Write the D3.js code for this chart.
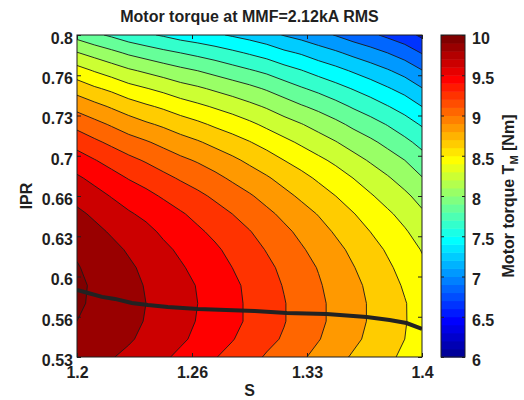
<!DOCTYPE html>
<html>
<head>
<meta charset="utf-8">
<script src="https://cdn.jsdelivr.net/npm/d3@7"></script>
<style>
    body { margin: 0; background: #fff; }
    svg { display: block; font-family: "Liberation Sans", Arial, sans-serif; }
    .axis text { font-size: 16px; font-weight: bold; fill: #1f1f1f; }
    .axis path, .axis line { stroke: #1f1f1f; }
    .label { font-size: 16px; font-weight: bold; fill: #1f1f1f; }
</style>
</head>
<body>
<svg width="524" height="400"></svg>
<script>
// grid: columns are S, rows are IPR (bottom row first)
const sValues = [1.20, 1.21, 1.22, 1.23, 1.24, 1.25, 1.26, 1.27, 1.28, 1.29, 1.30,
                 1.31, 1.32, 1.33, 1.34, 1.35, 1.36, 1.37, 1.38, 1.39, 1.40];
const iprValues = [0.53, 0.545, 0.56, 0.575, 0.59, 0.605, 0.62, 0.635, 0.65, 0.665,
                   0.68, 0.695, 0.71, 0.725, 0.74, 0.755, 0.77, 0.785, 0.80];
const torque = [
    [9.90, 9.86, 9.81, 9.76, 9.70, 9.63, 9.56, 9.49, 9.41, 9.34, 9.26, 9.18, 9.11, 9.03, 8.94, 8.86, 8.78, 8.71, 8.64, 8.56, 8.50],
    [9.96, 9.92, 9.87, 9.82, 9.76, 9.69, 9.63, 9.56, 9.48, 9.41, 9.33, 9.25, 9.18, 9.09, 9.01, 8.92, 8.84, 8.76, 8.68, 8.60, 8.53],
    [10.00, 9.96, 9.90, 9.85, 9.79, 9.73, 9.66, 9.59, 9.52, 9.45, 9.37, 9.29, 9.21, 9.12, 9.04, 8.95, 8.87, 8.78, 8.70, 8.61, 8.53],
    [10.02, 9.98, 9.92, 9.86, 9.80, 9.74, 9.67, 9.60, 9.53, 9.45, 9.37, 9.29, 9.21, 9.12, 9.04, 8.95, 8.87, 8.78, 8.69, 8.61, 8.52],
    [10.03, 9.98, 9.92, 9.85, 9.79, 9.72, 9.66, 9.59, 9.51, 9.44, 9.36, 9.27, 9.19, 9.11, 9.02, 8.93, 8.85, 8.76, 8.67, 8.58, 8.49],
    [10.01, 9.96, 9.89, 9.83, 9.76, 9.69, 9.62, 9.55, 9.48, 9.40, 9.32, 9.24, 9.16, 9.07, 8.99, 8.90, 8.81, 8.72, 8.63, 8.54, 8.44],
    [9.98, 9.92, 9.85, 9.78, 9.71, 9.64, 9.57, 9.50, 9.43, 9.35, 9.27, 9.19, 9.11, 9.02, 8.94, 8.85, 8.76, 8.67, 8.58, 8.49, 8.39],
    [9.92, 9.85, 9.78, 9.71, 9.65, 9.57, 9.50, 9.43, 9.36, 9.28, 9.21, 9.12, 9.04, 8.96, 8.87, 8.78, 8.69, 8.60, 8.51, 8.42, 8.32],
    [9.84, 9.77, 9.70, 9.62, 9.56, 9.49, 9.42, 9.35, 9.27, 9.20, 9.12, 9.04, 8.96, 8.87, 8.79, 8.70, 8.61, 8.52, 8.43, 8.34, 8.23],
    [9.74, 9.67, 9.59, 9.52, 9.45, 9.38, 9.31, 9.24, 9.17, 9.10, 9.02, 8.94, 8.85, 8.77, 8.69, 8.60, 8.51, 8.42, 8.33, 8.24, 8.13],
    [9.63, 9.55, 9.47, 9.39, 9.33, 9.25, 9.18, 9.12, 9.05, 8.97, 8.90, 8.82, 8.74, 8.66, 8.57, 8.49, 8.40, 8.31, 8.22, 8.12, 8.01],
    [9.49, 9.41, 9.33, 9.25, 9.18, 9.11, 9.04, 8.98, 8.91, 8.84, 8.76, 8.69, 8.60, 8.52, 8.44, 8.36, 8.27, 8.18, 8.09, 8.00, 7.88],
    [9.33, 9.24, 9.16, 9.08, 9.02, 8.95, 8.88, 8.82, 8.75, 8.68, 8.61, 8.53, 8.45, 8.37, 8.29, 8.21, 8.12, 8.04, 7.95, 7.85, 7.74],
    [9.14, 9.06, 8.98, 8.90, 8.83, 8.77, 8.70, 8.64, 8.57, 8.51, 8.44, 8.36, 8.28, 8.21, 8.13, 8.05, 7.96, 7.88, 7.79, 7.69, 7.58],
    [8.94, 8.86, 8.78, 8.70, 8.63, 8.57, 8.50, 8.44, 8.38, 8.32, 8.25, 8.18, 8.10, 8.02, 7.95, 7.87, 7.78, 7.70, 7.61, 7.52, 7.40],
    [8.72, 8.63, 8.56, 8.47, 8.41, 8.35, 8.28, 8.23, 8.17, 8.11, 8.05, 7.98, 7.90, 7.82, 7.75, 7.67, 7.59, 7.51, 7.42, 7.33, 7.21],
    [8.48, 8.39, 8.31, 8.23, 8.17, 8.11, 8.05, 8.00, 7.94, 7.88, 7.82, 7.76, 7.68, 7.61, 7.53, 7.46, 7.38, 7.30, 7.22, 7.13, 7.01],
    [8.21, 8.13, 8.05, 7.97, 7.91, 7.85, 7.80, 7.75, 7.70, 7.64, 7.58, 7.52, 7.44, 7.38, 7.30, 7.23, 7.15, 7.08, 7.00, 6.91, 6.79],
    [7.93, 7.84, 7.77, 7.69, 7.63, 7.58, 7.52, 7.48, 7.43, 7.38, 7.33, 7.27, 7.19, 7.13, 7.06, 6.99, 6.91, 6.84, 6.76, 6.68, 6.56]
];
const levels = [6.0, 6.2, 6.4, 6.6, 6.8, 7.0, 7.2, 7.4, 7.6, 7.8, 8.0,
                8.2, 8.4, 8.6, 8.8, 9.0, 9.2, 9.4, 9.6, 9.8, 10.0];

// max torque line
const ridgeS = [1.2, 1.2064, 1.2145, 1.222, 1.2318, 1.2411, 1.2527, 1.270, 1.303,
                1.3216, 1.3447, 1.3679, 1.3812, 1.391, 1.40];
const ridgeIPR = [0.5862, 0.5837, 0.5804, 0.5787, 0.5753, 0.5736, 0.5719, 0.5703, 0.5686,
                  0.5669, 0.5661, 0.5635, 0.5610, 0.5585, 0.5535];

const xTicks = [1.2, 1.26667, 1.33333, 1.4];
const xTickLabels = ["1.2", "1.26", "1.33", "1.4"];
const yTicks = [0.53, 0.56375, 0.5975, 0.63125, 0.665, 0.69875, 0.7325, 0.76625, 0.8];
const yTickLabels = ["0.53", "0.56", "0.6", "0.63", "0.66", "0.7", "0.73", "0.76", "0.8"];
const cbTicks = [6, 6.5, 7, 7.5, 8, 8.5, 9, 9.5, 10];
const cbTickLabels = ["6", "6.5", "7", "7.5", "8", "8.5", "9", "9.5", "10"];

document.addEventListener("DOMContentLoaded", function () {
    const svg = d3.select("svg");
    const plot = { left: 77, right: 422, top: 35, bottom: 357 };
    const bar = { left: 441, right: 465 };

    const x = d3.scaleLinear().domain([1.2, 1.4]).range([plot.left, plot.right]);
    const y = d3.scaleLinear().domain([0.53, 0.8]).range([plot.bottom, plot.top]);
    const cbY = d3.scaleLinear().domain([6, 10]).range([plot.bottom, plot.top]);

    // matlab style jet(m)
    function jet(m) {
        const n = Math.ceil(m / 4);
        const u = [];
        for (let i = 1; i <= n; i++) u.push(i / n);
        for (let i = 1; i < n; i++) u.push(1);
        for (let i = n; i >= 1; i--) u.push(i / n);
        const g0 = Math.ceil(n / 2) - (m % 4 === 1 ? 1 : 0);
        const cols = d3.range(m).map(() => [0, 0, 0]);
        u.forEach((v, i) => {
            const g = g0 + i + 1, r = g + n, b = g - n;
            if (g >= 1 && g <= m) cols[g - 1][1] = v;
            if (r >= 1 && r <= m) cols[r - 1][0] = v;
            if (b >= 1 && b <= m) cols[b - 1][2] = v;
        });
        return cols.map(c => d3.rgb(c[0] * 255, c[1] * 255, c[2] * 255).formatHex());
    }
    const cmap = jet(40);
    const bandColor = v => cmap[Math.max(0, Math.min(39, Math.round((v - 6) * 10)))];

    svg.append("defs").append("clipPath")
        .attr("id", "plotClip")
        .append("rect")
        .attr("x", plot.left)
        .attr("y", plot.top)
        .attr("width", plot.right - plot.left)
        .attr("height", plot.bottom - plot.top);

    const nx = sValues.length, ny = iprValues.length;
    const contours = d3.contours()
        .size([nx, ny])
        .thresholds(levels)(torque.flat());

    const gridX = d3.scaleLinear().domain([0.5, nx - 0.5]).range([x(sValues[0]), x(sValues[nx - 1])]);
    const gridY = d3.scaleLinear().domain([0.5, ny - 0.5]).range([y(iprValues[0]), y(iprValues[ny - 1])]);
    const path = d3.geoPath(d3.geoTransform({
        point: function (px, py) { this.stream.point(gridX(px), gridY(py)); }
    }));

    const field = svg.append("g").attr("clip-path", "url(#plotClip)");

    field.selectAll("path.band")
        .data(contours)
        .enter().append("path")
        .attr("class", "band")
        .attr("d", path)
        .attr("fill", d => bandColor(d.value))
        .attr("stroke", "none");

    field.selectAll("path.iso")
        .data(contours.slice(1))
        .enter().append("path")
        .attr("class", "iso")
        .attr("d", path)
        .attr("fill", "none")
        .attr("stroke", "#1a1a1a")
        .attr("stroke-width", 0.9);

    const ridgeLine = d3.line()
        .x((d, i) => x(ridgeS[i]))
        .y(d => y(d));
    field.append("path")
        .attr("d", ridgeLine(ridgeIPR))
        .attr("fill", "none")
        .attr("stroke", "#222")
        .attr("stroke-width", 4);

    // box + inward ticks
    svg.append("rect")
        .attr("x", plot.left)
        .attr("y", plot.top)
        .attr("width", plot.right - plot.left)
        .attr("height", plot.bottom - plot.top)
        .attr("fill", "none")
        .attr("stroke", "#1f1f1f");

    svg.append("g")
        .attr("class", "axis")
        .attr("transform", `translate(0,${plot.bottom})`)
        .call(d3.axisBottom(x).tickValues(xTicks).tickFormat((d, i) => xTickLabels[i]).tickSize(-4).tickPadding(10))
        .call(g => g.select(".domain").remove());

    svg.append("g")
        .attr("class", "axis")
        .attr("transform", `translate(${plot.left},0)`)
        .call(d3.axisLeft(y).tickValues(yTicks).tickFormat((d, i) => yTickLabels[i]).tickSize(-4).tickPadding(4))
        .call(g => g.select(".domain").remove())
        .call(g => g.selectAll("text").attr("dy", "0.53em"));

    svg.append("g")
        .attr("class", "axis")
        .attr("transform", `translate(0,${plot.top})`)
        .call(d3.axisTop(x).tickValues(xTicks).tickFormat("").tickSize(-4))
        .call(g => g.select(".domain").remove());

    svg.append("g")
        .attr("class", "axis")
        .attr("transform", `translate(${plot.right},0)`)
        .call(d3.axisRight(y).tickValues(yTicks).tickFormat("").tickSize(-4))
        .call(g => g.select(".domain").remove());

    // colorbar
    const cbSteps = d3.range(40);
    svg.append("g")
        .selectAll("rect")
        .data(cbSteps)
        .enter().append("rect")
        .attr("x", bar.left)
        .attr("width", bar.right - bar.left)
        .attr("y", k => cbY(6 + (k + 1) * 0.1))
        .attr("height", k => cbY(6 + k * 0.1) - cbY(6 + (k + 1) * 0.1) + 0.5)
        .attr("fill", k => cmap[k]);

    svg.append("rect")
        .attr("x", bar.left)
        .attr("y", plot.top)
        .attr("width", bar.right - bar.left)
        .attr("height", plot.bottom - plot.top)
        .attr("fill", "none")
        .attr("stroke", "#1f1f1f");

    svg.append("g")
        .attr("class", "axis")
        .attr("transform", `translate(${bar.right},0)`)
        .call(d3.axisRight(cbY).tickValues(cbTicks).tickFormat((d, i) => cbTickLabels[i]).tickSize(-3).tickPadding(7))
        .call(g => g.select(".domain").remove())
        .call(g => g.selectAll("text").attr("dy", "0.53em"));

    svg.append("g")
        .attr("class", "axis")
        .attr("transform", `translate(${bar.left},0)`)
        .call(d3.axisLeft(cbY).tickValues(cbTicks).tickFormat("").tickSize(-3))
        .call(g => g.select(".domain").remove());

    // texts
    svg.append("text")
        .attr("class", "label")
        .attr("x", (plot.left + plot.right) / 2)
        .attr("y", 22)
        .attr("text-anchor", "middle")
        .text("Motor torque at MMF=2.12kA RMS");

    svg.append("text")
        .attr("class", "label")
        .attr("x", (plot.left + plot.right) / 2)
        .attr("y", 396)
        .attr("text-anchor", "middle")
        .text("S");

    svg.append("text")
        .attr("class", "label")
        .attr("transform", `translate(32,${(plot.top + plot.bottom) / 2}) rotate(-90)`)
        .attr("text-anchor", "middle")
        .text("IPR");

    const cbLabel = svg.append("text")
        .attr("class", "label")
        .attr("transform", `translate(514,${(plot.top + plot.bottom) / 2}) rotate(-90)`)
        .attr("text-anchor", "middle");
    cbLabel.append("tspan").text("Motor torque T");
    cbLabel.append("tspan").attr("dy", 4).style("font-size", "11px").text("M");
    cbLabel.append("tspan").attr("dy", -4).text(" [Nm]");
});
</script>
</body>
</html>
